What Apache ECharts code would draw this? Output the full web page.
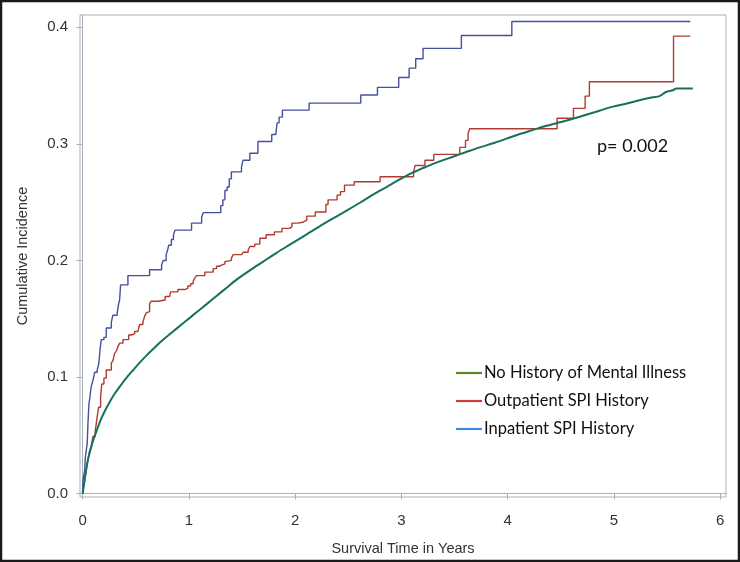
<!DOCTYPE html>
<html>
<head>
<meta charset="utf-8">
<script src="https://cdn.jsdelivr.net/npm/echarts@6/dist/echarts.min.js"></script>
<style>
html,body{margin:0;padding:0;background:#fff;}
#chart{width:740px;height:562px;}
</style>
</head>
<body>
<div id="chart"></div>
<script>
// ---- data ----
var seriesNames = ['No History of Mental Illness', 'Outpatient SPI History', 'Inpatient SPI History'];
var xTicks = [0, 1, 2, 3, 4, 5, 6];
var yTicks = [0.0, 0.1, 0.2, 0.3, 0.4];
var pValueText = 'p= 0.002';

var noHistory = [
  [0,0],[0.022,0.014],[0.043,0.026],[0.069,0.036],[0.10,0.046],[0.132,0.054],[0.169,0.063],
  [0.21,0.071],[0.257,0.079],[0.304,0.086],[0.351,0.092],[0.414,0.0995],[0.476,0.106],[0.539,0.1125],
  [0.602,0.1185],[0.664,0.124],[0.727,0.1295],[0.79,0.1345],[0.884,0.1415],[0.978,0.1485],[1.072,0.1555],
  [1.167,0.1625],[1.26,0.1695],[1.355,0.1765],[1.449,0.1835],[1.574,0.1915],[1.70,0.199],[1.825,0.2065],
  [1.95,0.2135],[2.075,0.2205],[2.2,0.2275],[2.327,0.2345],[2.48,0.2425],[2.61,0.2495],[2.734,0.2565],
  [2.86,0.263],[2.985,0.2695],[3.11,0.2755],[3.236,0.2805],[3.36,0.285],[3.486,0.289],[3.61,0.293],
  [3.737,0.297],[3.863,0.3005],[3.99,0.3045],[4.115,0.3085],[4.24,0.312],[4.365,0.3155],[4.49,0.3185],
  [4.615,0.3215],[4.74,0.325],[4.865,0.3285],[4.99,0.332],[5.115,0.3345],[5.24,0.3375],[5.365,0.340],
  [5.43,0.341],[5.49,0.3445],[5.556,0.346],[5.588,0.3476],[5.744,0.3476]
];

var outpatient = [
  [0,0],[0.003,0.003],[0.019,0.011],[0.034,0.020],[0.05,0.029],[0.066,0.037],[0.081,0.040],
  [0.097,0.049],[0.119,0.054],[0.137,0.066],[0.15,0.074],[0.169,0.083],[0.18,0.094],[0.2,0.099],
  [0.222,0.106],[0.27,0.112],[0.285,0.114],[0.30,0.120],[0.316,0.122],[0.332,0.126],[0.348,0.129],
  [0.379,0.132],[0.433,0.136],[0.457,0.137],[0.489,0.139],[0.52,0.140],[0.536,0.145],[0.567,0.147],
  [0.583,0.152],[0.598,0.155],[0.614,0.156],[0.63,0.163],[0.645,0.165],[0.708,0.166],[0.777,0.169],
  [0.818,0.170],[0.828,0.173],[0.896,0.175],[0.96,0.176],[0.99,0.178],[1.016,0.180],[1.04,0.182],
  [1.056,0.185],[1.072,0.187],[1.15,0.190],[1.229,0.193],[1.26,0.195],[1.285,0.196],[1.308,0.197],
  [1.339,0.199],[1.355,0.200],[1.40,0.202],[1.417,0.205],[1.496,0.206],[1.51,0.207],[1.558,0.209],
  [1.574,0.212],[1.62,0.214],[1.668,0.219],[1.727,0.222],[1.805,0.2245],[1.876,0.2275],[1.95,0.229],
  [1.97,0.232],[2.03,0.233],[2.08,0.2346],[2.11,0.238],[2.19,0.2415],[2.29,0.248],[2.31,0.252],
  [2.395,0.256],[2.427,0.259],[2.465,0.2646],[2.556,0.2675],[2.80,0.2718],[3.115,0.276],[3.13,0.2815],
  [3.222,0.286],[3.305,0.291],[3.55,0.297],[3.604,0.303],[3.628,0.309],[3.643,0.313],[4.466,0.322],
  [4.62,0.3305],[4.73,0.341],[4.77,0.3533],[5.562,0.3925],[5.72,0.3925]
];

var inpatient = [
  [0,0],[0.003,0.011],[0.019,0.020],[0.025,0.031],[0.043,0.043],[0.05,0.060],[0.059,0.077],
  [0.069,0.083],[0.081,0.092],[0.097,0.097],[0.113,0.104],[0.137,0.106],[0.153,0.112],[0.163,0.123],
  [0.175,0.132],[0.2,0.134],[0.222,0.142],[0.27,0.147],[0.285,0.153],[0.325,0.155],[0.339,0.163],
  [0.348,0.166],[0.357,0.179],[0.426,0.187],[0.63,0.192],[0.743,0.196],[0.758,0.200],[0.786,0.205],
  [0.80,0.209],[0.81,0.213],[0.835,0.218],[0.855,0.222],[0.87,0.226],[1.025,0.232],[1.12,0.237],
  [1.135,0.241],[1.30,0.247],[1.32,0.252],[1.339,0.260],[1.36,0.263],[1.38,0.270],[1.40,0.276],
  [1.495,0.280],[1.51,0.286],[1.574,0.292],[1.65,0.302],[1.78,0.308],[1.818,0.309],[1.83,0.318],
  [1.849,0.323],[1.88,0.329],[2.132,0.335],[2.618,0.342],[2.775,0.3485],[2.975,0.357],[3.073,0.365],
  [3.135,0.373],[3.204,0.382],[3.565,0.393],[4.04,0.405],[5.72,0.405]
];

// ---- styling ----
var lineColors = ['#17705e', '#b23a30', '#4450a0'];
var legendColors = ['#5a8a1e', '#d03a3a', '#3d8be0'];
var frameColor = '#a9b0b7';
var chart = echarts.init(document.getElementById('chart'), null, {renderer: 'canvas'});

var legendGraphics = [];
var legendY = [373, 401, 429];
for (var i = 0; i < seriesNames.length; i++) {
  legendGraphics.push({
    type: 'line', shape: {x1: 456, y1: legendY[i], x2: 482, y2: legendY[i]},
    style: {stroke: legendColors[i], lineWidth: 2.2}, z: 10
  });
  legendGraphics.push({
    type: 'text', x: 484, y: legendY[i],
    style: {text: seriesNames[i], fill: '#111', font: '16.5px Lato', textVerticalAlign: 'middle', textAlign: 'left'},
    z: 10
  });
}

var option = {
  animation: false,
  backgroundColor: '#fff',
  grid: {left: 80, right: 14, top: 15, bottom: 65, show: true, borderColor: frameColor, borderWidth: 1, backgroundColor: 'transparent'},
  xAxis: {
    type: 'value', min: -0.025, max: 6.056,
    name: 'Survival Time in Years', nameLocation: 'middle', nameGap: 44,
    nameTextStyle: {fontFamily: 'Liberation Sans', fontSize: 14.5, color: '#333'},
    axisLine: {show: true, lineStyle: {color: frameColor, width: 1}},
    axisTick: {show: true, length: 6, inside: false, lineStyle: {color: frameColor}, customValues: xTicks},
    axisLabel: {customValues: xTicks, margin: 16, fontFamily: 'Liberation Sans', fontSize: 15, color: '#333',
      formatter: function (v) { return String(v); }},
    splitLine: {show: false}
  },
  yAxis: {
    type: 'value', min: -0.003, max: 0.4106,
    name: 'Cumulative Incidence', nameLocation: 'middle', nameGap: 50, nameRotate: 90,
    nameTextStyle: {fontFamily: 'Liberation Sans', fontSize: 14.5, color: '#333'},
    axisLine: {show: true, lineStyle: {color: frameColor, width: 1}},
    axisTick: {show: true, length: 6, inside: false, lineStyle: {color: frameColor}, customValues: yTicks},
    axisLabel: {customValues: yTicks, margin: 12, fontFamily: 'Liberation Sans', fontSize: 15, color: '#333',
      formatter: function (v) { return v.toFixed(1); }},
    splitLine: {show: false}
  },
  series: [
    {name: seriesNames[0], type: 'line', data: noHistory, showSymbol: false, smooth: 0.3,
      lineStyle: {color: lineColors[0], width: 2}, itemStyle: {color: lineColors[0]}, z: 3},
    {name: seriesNames[1], type: 'line', data: outpatient, step: 'end', showSymbol: false,
      lineStyle: {color: lineColors[1], width: 1.4}, itemStyle: {color: lineColors[1]}, z: 2},
    {name: seriesNames[2], type: 'line', data: inpatient, step: 'end', showSymbol: false,
      lineStyle: {color: lineColors[2], width: 1.4}, itemStyle: {color: lineColors[2]}, z: 2}
  ],
  graphic: [
    {type: 'rect', shape: {x: 1, y: 1, width: 738, height: 560}, style: {fill: 'none', stroke: '#1a1a1a', lineWidth: 2.5}, z: 20, silent: true},
    {type: 'text', x: 597, y: 146, style: {text: pValueText, fill: '#111', font: '18px Lato', textVerticalAlign: 'middle', textAlign: 'left'}, z: 10}
  ].concat(legendGraphics)
};
chart.setOption(option);
</script>
</body>
</html>
